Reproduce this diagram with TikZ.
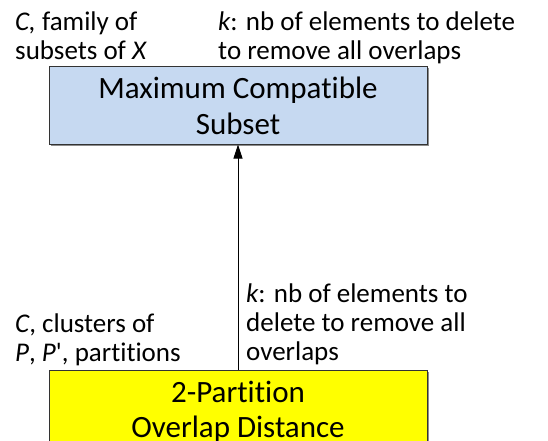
\documentclass[tikz,border=0pt]{standalone}
\usepackage{fontspec}
\setmainfont{Carlito}[Ligatures={TeX,NoCommon}]
\usetikzlibrary{arrows.meta,shadows}
\definecolor{mcsblue}{RGB}{198,217,241}
\definecolor{ovdyellow}{RGB}{255,255,0}
\begin{document}
\begin{tikzpicture}[x=1pt,y=1pt,
  lbl/.style={anchor=base west, inner sep=0pt, font=\fontsize{27}{29}\selectfont},
  boxtxt/.style={anchor=base, inner sep=0pt, font=\fontsize{31}{35.5}\selectfont},
  probbox/.style={draw=black!80, line width=1pt, inner sep=0pt, minimum width=378pt,
    drop shadow={shadow xshift=1.5pt, shadow yshift=-1.5pt, fill=black!45, opacity=1}},
  redarrow/.style={line width=0.9pt, -{Triangle[width=9pt,length=14pt]}}]
\useasboundingbox (0,0) rectangle (548,-441);
\clip (0,0) rectangle (548,-441);
\fill[white] (0,0) rectangle (548,-441);
% boxes
\node[probbox, fill=mcsblue, minimum height=77pt] (mcs) at (238,-105.5) {};
\node[boxtxt] (mcstxt) at (238,-99) {\begin{tabular}[t]{@{}c@{}}Maximum Compatible\\Subset\end{tabular}};
\node[probbox, fill=ovdyellow, minimum height=100pt] (ovd) at (238,-420) {};
\node[boxtxt] (ovdtxt) at (238,-402) {\begin{tabular}[t]{@{}c@{}}2-Partition\\Overlap Distance\end{tabular}};
% labels
\node[lbl] (mcsin) at (15,-31) {\begin{tabular}[t]{@{}l@{}}{\itshape C,} family of\\subsets of {\itshape X}\end{tabular}};
\node[lbl] (mcspar) at (218,-31) {\begin{tabular}[t]{@{}l@{}}{\itshape k}: nb of elements to delete\\to remove all overlaps\end{tabular}};
\node[lbl] (ovdin) at (15,-332) {\begin{tabular}[t]{@{}l@{}}{\itshape C}, clusters of\\{\itshape P}, {\itshape P}\textquotesingle, partitions\end{tabular}};
\node[lbl] (ovdpar) at (246,-302) {\begin{tabular}[t]{@{}l@{}}{\itshape k}: nb of elements to\\delete to remove all\\overlaps\end{tabular}};
% reduction arrow
\draw[redarrow] (ovd.north) -- (mcs.south);
\end{tikzpicture}
\end{document}
